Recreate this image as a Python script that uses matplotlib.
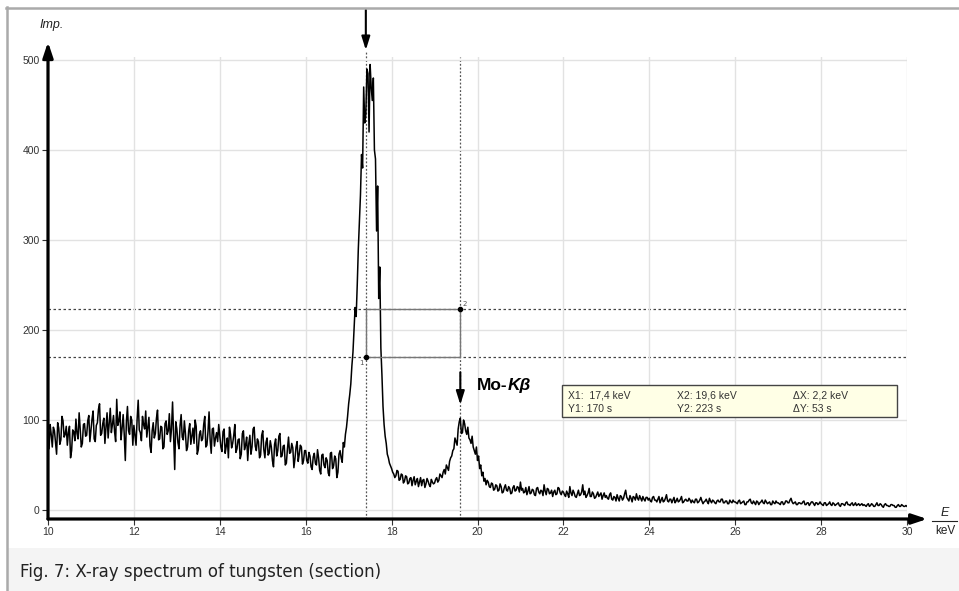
import numpy as np
import matplotlib
matplotlib.use("Agg")
import matplotlib.pyplot as plt
from matplotlib.patches import Rectangle

# ---------------- data ----------------
e_start, e_step = 10.0, 0.025          # keV, channel grid
counts = (
    [80, 68, 95, 84, 70, 92, 88, 75, 62, 97, 91, 73, 78, 104, 99, 81, 84, 93, 72, 86,
     93, 58, 66, 89, 87, 77, 101, 85, 79, 108, 90, 70, 74, 95, 96, 82, 83, 99, 105, 76]   # 10
    + [88, 101, 110, 79, 76, 94, 97, 112, 118, 83, 85, 96, 102, 74, 92, 108, 80, 97, 113, 86,
       95, 105, 87, 76, 123, 94, 99, 109, 78, 91, 106, 84, 55, 98, 115, 88, 84, 104, 100, 72]  # 11
    + [94, 83, 72, 101, 122, 89, 86, 77, 104, 95, 90, 110, 81, 92, 103, 71, 64, 88, 97, 80,
       85, 102, 111, 78, 79, 93, 92, 68, 70, 96, 99, 84, 88, 107, 76, 90, 120, 82, 45, 98]    # 12
    + [90, 75, 68, 94, 106, 81, 78, 99, 85, 66, 70, 88, 96, 73, 82, 91, 74, 100, 93, 62,
       67, 84, 88, 77, 79, 95, 104, 70, 72, 87, 109, 78, 63, 90, 91, 71, 80, 86, 76, 95]      # 13
    + [82, 70, 65, 87, 90, 63, 71, 80, 58, 92, 84, 69, 74, 83, 95, 64, 68, 78, 79, 57,
       62, 85, 88, 67, 72, 81, 55, 74, 83, 62, 70, 90, 92, 71, 66, 79, 76, 58, 61, 83]        # 14
    + [88, 67, 58, 75, 80, 61, 63, 77, 70, 55, 48, 73, 79, 60, 66, 82, 85, 59, 60, 71,
       72, 50, 52, 68, 81, 63, 64, 74, 69, 47, 57, 70, 76, 54, 62, 72, 70, 51, 55, 66]        # 15
    + [66, 55, 52, 64, 60, 48, 45, 59, 63, 52, 50, 67, 58, 44, 40, 61, 62, 50, 47, 58,
       55, 41, 38, 63, 64, 46, 49, 60, 57, 36, 42, 62, 66, 58, 53, 75, 70, 84, 92, 104]       # 16
    + [118, 128, 140, 160, 175, 200, 225, 215, 250, 290, 320, 350, 395, 380, 470, 430,
       440, 490, 485, 420, 495, 470, 455, 480, 400, 390, 310, 360, 235, 270, 180, 150,
       115, 95, 82, 74, 62, 58, 52, 49]                                                        # 17
    + [46, 42, 40, 36, 38, 44, 43, 33, 34, 40, 39, 30, 32, 38, 37, 29, 30, 35, 36, 27,
       33, 37, 28, 32, 35, 26, 31, 36, 27, 33, 34, 25, 29, 35, 32, 28, 26, 34, 31, 29]        # 18
    + [30, 34, 36, 31, 33, 40, 38, 36, 42, 45, 40, 50, 47, 44, 54, 58, 60, 66, 68, 80,
       76, 72, 90, 98, 102, 85, 86, 100, 96, 88, 84, 92, 80, 78, 74, 82, 70, 66, 62, 70]      # 19
    + [55, 60, 46, 50, 38, 42, 32, 35, 28, 33, 31, 26, 25, 30, 29, 22, 23, 28, 27, 21,
       22, 29, 26, 19, 20, 25, 28, 22, 21, 26, 24, 18, 19, 25, 27, 21, 22, 26, 25, 20]        # 20
    + [31, 22, 24, 19, 20, 25, 17, 21, 26, 18, 19, 23, 22, 17, 16, 24, 25, 20, 18, 22,
       21, 16, 28, 21, 17, 24, 23, 18, 19, 22, 15, 20, 22, 17, 18, 25, 24, 19, 17, 21]        # 21
    + [20, 17, 15, 21, 18, 14, 26, 19, 16, 22, 19, 15, 14, 18, 22, 16, 17, 20, 28, 17,
       21, 14, 16, 19, 24, 15, 15, 20, 18, 13, 14, 17, 20, 15, 17, 19, 12, 16, 19, 14]        # 22
    + [16, 13, 12, 17, 19, 12, 11, 15, 14, 10, 17, 13, 10, 16, 15, 11, 13, 18, 22, 14,
       12, 10, 16, 13, 9, 15, 14, 11, 18, 13, 11, 16, 13, 10, 15, 12, 10, 14, 14, 11]         # 23
    + [13, 10, 9, 14, 15, 11, 11, 9, 12, 15, 8, 11, 14, 9, 10, 13, 17, 10, 9, 12,
       12, 8, 11, 14, 8, 10, 13, 9, 10, 12, 15, 8, 9, 11, 12, 10, 10, 13, 11, 8]               # 24
    + [11, 9, 8, 12, 12, 8, 9, 11, 14, 10, 7, 9, 10, 12, 9, 7, 13, 10, 8, 11,
       10, 8, 7, 10, 11, 9, 9, 12, 12, 8, 8, 10, 10, 7, 7, 11, 9, 8, 11, 9]                    # 25
    + [9, 8, 7, 10, 11, 7, 8, 9, 10, 6, 6, 9, 9, 11, 12, 8, 7, 10, 8, 6,
       10, 9, 6, 8, 9, 11, 8, 7, 11, 9, 7, 8, 9, 6, 6, 10, 8, 7, 10, 8]                        # 26
    + [8, 7, 6, 9, 9, 6, 7, 10, 10, 8, 8, 11, 13, 9, 7, 8, 9, 6, 6, 8,
       8, 7, 7, 9, 10, 6, 6, 8, 8, 5, 7, 9, 9, 7, 5, 8, 8, 6, 7, 9]                            # 27
    + [7, 6, 5, 8, 8, 5, 6, 7, 9, 6, 5, 8, 7, 5, 6, 7, 8, 5, 4, 7,
       7, 6, 5, 8, 9, 6, 6, 5, 7, 8, 5, 6, 8, 5, 6, 7, 5, 6, 7, 5]                             # 28
    + [6, 5, 4, 6, 7, 4, 5, 7, 6, 4, 4, 6, 8, 5, 5, 7, 6, 4, 3, 6,
       7, 5, 5, 4, 4, 6, 6, 5, 5, 3, 3, 5, 6, 4, 4, 6, 5, 4, 4, 5]                             # 29
    + [4]                                                                                      # 30
)
x_ticks = [10, 12, 14, 16, 18, 20, 22, 24, 26, 28, 30]
y_ticks = [0, 100, 200, 300, 400, 500]
cursor_x = [17.4, 19.6]
cursor_y = [170, 223]
peak_main_x = 17.4
peak_kb_x = 19.6
caption = "Fig. 7: X-ray spectrum of tungsten (section)"

energy = e_start + e_step * np.arange(len(counts))

# ---------------- figure ----------------
W, H = 959, 591
fig = plt.figure(figsize=(W / 100, H / 100), dpi=100)
fig.patch.set_facecolor("white")

# caption band & frame
fig.patches.append(Rectangle((8 / W, 0), 1, (591 - 548) / H, transform=fig.transFigure,
                             facecolor="#f4f4f4", edgecolor="none", zorder=0))
fig.add_artist(plt.Line2D([6 / W, 1], [1 - 8 / H, 1 - 8 / H], transform=fig.transFigure,
                          color="#aaaaaa", lw=1.8))
fig.add_artist(plt.Line2D([6.5 / W, 6.5 / W], [0, 1 - 7 / H], transform=fig.transFigure,
                          color="#aaaaaa", lw=1.8))
fig.text(20 / W, 1 - 572 / H, caption, fontsize=12, family="DejaVu Sans",
         color="#222222", va="center", ha="left")

ax = fig.add_axes([48 / W, (591 - 519) / H, 859 / W, 461.7 / H])
ax.set_xlim(10, 30)
ax.set_ylim(-10, 503)
for s in ax.spines.values():
    s.set_visible(False)

ax.set_xticks(x_ticks)
ax.set_yticks(y_ticks)
ax.tick_params(axis="both", labelsize=7.5, labelcolor="#333333", color="#333333",
               length=4, width=0.8, pad=2)
for lab in ax.get_xticklabels() + ax.get_yticklabels():
    lab.set_family("Liberation Sans")
ax.grid(True, color="#e2e2e2", lw=1.0, zorder=0)

# zero line
ax.axhline(0, color="#222222", lw=0.7, ls=(0, (3, 2)), zorder=1)

# cursor lines
for cx in cursor_x:
    ax.plot([cx, cx], [-10, 503 if cx != peak_main_x else 510], color="#555555", lw=0.9,
            ls=(0, (1.5, 1.5)), zorder=1, clip_on=False)
for cy in cursor_y:
    ax.plot([10, 30], [cy, cy], color="#444444", lw=0.9, ls=(0, (2, 2)), zorder=1)

# spectrum
ax.plot(energy, counts, color="black", lw=1.1, zorder=3)

# cursor rectangle
ax.add_patch(Rectangle((cursor_x[0], cursor_y[0]), cursor_x[1] - cursor_x[0],
                       cursor_y[1] - cursor_y[0], fill=False, edgecolor="#777777",
                       lw=1.0, zorder=4))
ax.plot([cursor_x[0]], [cursor_y[0]], "o", color="black", ms=3, zorder=5)
ax.plot([cursor_x[1]], [cursor_y[1]], "o", color="black", ms=3, zorder=5)
ax.text(cursor_x[0] - 0.05, cursor_y[0] - 3, "1", fontsize=5, color="#555555",
        ha="right", va="top", zorder=5)
ax.text(cursor_x[1] + 0.05, cursor_y[1] + 3, "2", fontsize=5, color="#555555",
        ha="left", va="bottom", zorder=5)

# axis arrows
ax.annotate("", xy=(30.47, -10), xytext=(10, -10), xycoords="data",
            arrowprops=dict(arrowstyle="-|>,head_length=0.9,head_width=0.3",
                            color="black", lw=2.3, shrinkA=0, shrinkB=0),
            annotation_clip=False, zorder=6)
ax.annotate("", xy=(10, 520), xytext=(10, -10), xycoords="data",
            arrowprops=dict(arrowstyle="-|>,head_length=0.9,head_width=0.3",
                            color="black", lw=2.3, shrinkA=0, shrinkB=0),
            annotation_clip=False, zorder=6)

# peak arrows
ax.annotate("", xy=(peak_main_x, 511), xytext=(peak_main_x, 556),
            arrowprops=dict(arrowstyle="-|>,head_length=0.8,head_width=0.25",
                            color="black", lw=1.5, shrinkA=0, shrinkB=0),
            annotation_clip=False, zorder=6)
ax.annotate("", xy=(peak_kb_x, 117), xytext=(peak_kb_x, 153),
            arrowprops=dict(arrowstyle="-|>,head_length=0.8,head_width=0.25",
                            color="black", lw=1.5, shrinkA=0, shrinkB=0),
            annotation_clip=False, zorder=6)

t1 = ax.text(19.99, 138, "Mo-", fontsize=12.5, fontweight="bold",
             family="Liberation Sans", va="center", ha="left", zorder=6)
fig.canvas.draw()
bb = t1.get_window_extent()
xr = ax.transData.inverted().transform((bb.x1, bb.y0))[0]
ax.text(xr, 138, "Kβ", fontsize=12.5, fontweight="bold", fontstyle="italic",
        family="Liberation Sans", va="center", ha="left", zorder=6)

# info box
bx0 = 10 + (562 - 48) / 42.95
bx1 = 10 + (897 - 48) / 42.95
by0 = (510 - 417) / 0.9
by1 = (510 - 385) / 0.9
ax.add_patch(Rectangle((bx0, by0), bx1 - bx0, by1 - by0, facecolor="#ffffe6",
                       edgecolor="#444444", lw=1.0, zorder=7))
rows = [["X1:  17,4 keV", "X2: 19,6 keV", "ΔX: 2,2 keV"],
        ["Y1: 170 s", "Y2: 223 s", "ΔY: 53 s"]]
col_px = [568, 677, 793]
row_px = [396, 409]
for r, ypx in zip(rows, row_px):
    for txt, xpx in zip(r, col_px):
        ax.text(10 + (xpx - 48) / 42.95, (510 - ypx) / 0.9, txt, fontsize=7.5,
                family="Liberation Sans", color="#333333", va="center", ha="left",
                zorder=8)

# axis labels
fig.text(52 / W, 1 - 25 / H, "Imp.", fontsize=9, fontstyle="italic",
         family="Liberation Sans", ha="center", va="center", color="#222222")
fig.text(945 / W, 1 - 513 / H, "E", fontsize=9, fontstyle="italic",
         family="Liberation Sans", ha="center", va="center", color="#222222")
fig.add_artist(plt.Line2D([932 / W, 957 / W], [1 - 521 / H, 1 - 521 / H],
                          transform=fig.transFigure, color="#222222", lw=0.8))
fig.text(945 / W, 1 - 531 / H, "keV", fontsize=8.5, family="Liberation Sans",
         ha="center", va="center", color="#222222")

fig.savefig("out.png", dpi=100, facecolor="white")
